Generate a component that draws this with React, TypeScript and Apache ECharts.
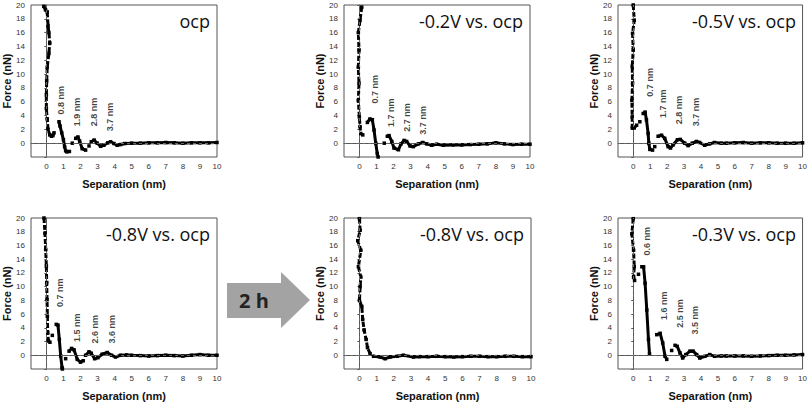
import React, { useEffect, useRef } from "react";
import * as echarts from "echarts";

// ---- axis / tick data ----
const X_TICKS = [0, 1, 2, 3, 4, 5, 6, 7, 8, 9, 10];
const X_MIN = -0.9;
const X_MAX = 10;
const Y_MIN = -2;
const Y_MAX = 20;
const Y_STEP = 2;

const PANEL_TITLES = ["ocp", "-0.2V vs. ocp", "-0.5V vs. ocp", "-0.8V vs. ocp", "-0.8V vs. ocp", "-0.3V vs. ocp"];
const ARROW_LABEL = "2 h";

// ---- curves: each panel is a list of continuous segments [separation nm, force nN]; first one is the steep wall ----
const ocpSegments = [
  [[-0.15, 19.8], [-0.05, 19.3], [0.05, 19], [0.1, 17], [0.15, 16], [0.2, 14.5], [0.15, 13], [0.05, 11], [0.02, 9], [0, 7], [0, 5], [0.05, 3.5], [0.1, 2], [0.2, 1.2], [0.3, 1], [0.38, 1.1], [0.45, 1.5]],
  [[0.74, 3.1], [0.8, 2.5], [0.9, 1.5], [1.0, 0.5], [1.07, -0.5], [1.13, -1.1], [1.2, -1.25], [1.35, -1.2]],
  [[1.52, 0]],
  [[1.72, 0.7], [1.85, 0.9], [1.95, 0.3], [2.1, -0.8], [2.3, -1.0]],
  [[2.5, -0.4]],
  [[2.63, 0.2], [2.8, 0.45], [2.98, 0], [3.18, -0.45], [3.37, -0.3], [3.6, 0.05], [3.76, 0.2], [3.96, -0.05], [4.15, -0.3], [4.35, -0.2], [4.6, -0.05], [5, 0], [5.5, 0], [6, 0.05], [6.5, 0.05], [7, 0.1], [7.5, 0.05], [8, 0], [8.5, 0.05], [9, 0.05], [9.5, 0.05], [10, 0.1]],
];
const m02Segments = [
  [[0.14, 19.7], [0.04, 17.8], [-0.06, 16], [-0.02, 13.5], [-0.06, 11], [-0.02, 8.7], [-0.06, 6.2], [0, 3.8], [0.04, 2.4], [0.08, 1.4], [0.2, 1.2]],
  [[0.47, 3], [0.62, 3.5], [0.76, 3.4], [0.86, 1.9], [0.96, 0], [1.05, -1.5], [1.1, -2]],
  [[1.46, 0]],
  [[1.64, 1.0], [1.74, 1.1], [1.9, 0.25], [2.03, -0.7], [2.29, -0.95], [2.44, -0.1], [2.62, 0.4], [2.77, 0.25], [2.97, -0.4], [3.16, -0.5], [3.46, -0.1], [3.71, 0.1], [3.95, -0.1], [4.24, -0.3], [4.53, -0.15], [4.92, -0.3], [5.5, -0.25], [6, -0.25], [6.5, -0.2], [7, -0.15], [7.5, -0.1], [8, 0.05], [8.5, -0.1], [9, -0.2], [9.5, -0.15], [10, -0.15]],
];
const m05Segments = [
  [[0, 20], [0.06, 17.8], [-0.04, 15.9], [0, 13.5], [-0.06, 11.1], [-0.04, 8.7], [-0.08, 6.2], [-0.06, 3.8], [-0.06, 2.2], [0.06, 2.2], [0.2, 2.6]],
  [[0.39, 3.1]],
  [[0.59, 4.3], [0.7, 4.5], [0.78, 3.4], [0.88, 1.4], [0.92, 0], [0.98, -0.9], [1.14, -1.0]],
  [[1.27, -0.5]],
  [[1.47, 1.0], [1.67, 1.15], [1.86, 0.7], [2.06, -0.5], [2.2, -0.7], [2.35, -0.25], [2.61, 0.5], [2.78, 0.55], [3.04, 0], [3.24, -0.35], [3.49, 0], [3.73, 0.25], [3.92, 0.1], [4.22, -0.3], [4.51, -0.1], [4.8, 0.1], [5.2, 0], [5.5, 0], [6, 0.05], [6.5, 0.1], [7, 0], [7.5, 0.05], [8, 0.05], [8.5, 0], [9, 0], [9.5, 0], [10, 0.05]],
];
const m08Segments = [
  [[-0.14, 20], [-0.08, 17.8], [-0.04, 15.4], [0, 13], [0.02, 10.6], [0.04, 8.1], [0.06, 5.7], [0.08, 3.3], [0.12, 2.1], [0.21, 1.9]],
  [[0.35, 2.9]],
  [[0.58, 4.5], [0.68, 4.4], [0.76, 2.3], [0.84, -0.1], [0.92, -1.8], [0.94, -2]],
  [[1.13, -0.5]],
  [[1.33, 0.6], [1.48, 1.0], [1.62, 0.8], [1.81, -0.6], [2.0, -1.0], [2.16, -0.8]],
  [[2.3, 0], [2.5, 0.5], [2.63, 0.3], [2.83, -0.5], [3.02, -0.35], [3.27, 0.15], [3.57, 0.4], [3.82, 0], [4.05, -0.25], [4.35, 0], [4.7, 0.05], [5, 0], [5.5, -0.05], [6, -0.1], [6.5, -0.05], [7, 0], [7.5, -0.05], [8, -0.1], [8.5, 0], [9, 0.1], [9.5, 0], [10, 0]],
];
const m08After2hSegments = [
  [[0, 19.9], [0.04, 18.2], [-0.1, 16.7], [0.08, 15.3], [-0.06, 12.9], [0.08, 11.4], [0.04, 10], [0, 8], [0.14, 7.1], [0.19, 5.2], [0.27, 3.7], [0.39, 2.3], [0.47, 1.1], [0.62, 0.24]],
  [[0.82, -0.15], [1.2, -0.25], [1.5, -0.5], [1.79, -0.25], [2.2, -0.15], [2.56, 0], [3.15, -0.25], [3.5, -0.2], [4, -0.2], [4.5, -0.15], [5, -0.2], [5.5, -0.25], [6, -0.2], [6.5, -0.15], [7, -0.15], [7.5, -0.2], [8, -0.2], [8.5, -0.15], [9, -0.15], [9.5, -0.2], [10, -0.2]],
];
const m03Segments = [
  [[0, 19.9], [-0.08, 17.7], [0.02, 15.3], [0.06, 12.9], [0.02, 11.4], [0.08, 10.9]],
  [[0.31, 11.8]],
  [[0.51, 12.9], [0.61, 12.9], [0.7, 10.5], [0.8, 6.6], [0.9, 2.3], [0.96, 0.2]],
  [[1.39, 3.0], [1.59, 3.2], [1.74, 1.8], [1.88, -0.15], [1.98, -0.6]],
  [[2.27, 0.7]],
  [[2.47, 1.45], [2.6, 1.3], [2.76, 0.35], [2.92, -0.4], [3.11, 0.1], [3.35, 0.6], [3.54, 0.6], [3.74, 0.1], [3.93, -0.4], [4.23, -0.15], [4.52, 0.1], [4.81, -0.15], [5.2, -0.1], [5.5, -0.1], [6, -0.1], [6.5, -0.1], [7, -0.15], [7.5, -0.1], [8, -0.05], [8.5, 0], [9, 0], [9.5, 0.05], [10, 0.1]],
];

// ---- layer spacing annotations [x, y, text] ----
const ocpNotes = [[0.84, 6.2, "0.8 nm"], [1.77, 4.5, "1.9 nm"], [2.77, 4.5, "2.8 nm"], [3.72, 3.8, "3.7 nm"]];
const m02Notes = [[0.92, 7.8, "0.7 nm"], [1.86, 4.4, "1.7 nm"], [2.77, 3.7, "2.7 nm"], [3.75, 3.3, "3.7 nm"]];
const m05Notes = [[0.98, 8.8, "0.7 nm"], [1.76, 5.7, "1.7 nm"], [2.7, 4.8, "2.8 nm"], [3.69, 4.5, "3.7 nm"]];
const m08Notes = [[0.8, 9.1, "0.7 nm"], [1.81, 4.0, "1.5 nm"], [2.85, 3.8, "2.6 nm"], [3.82, 3.8, "3.6 nm"]];
const m08After2hNotes: any[] = [];
const m03Notes = [[0.8, 16.6, "0.6 nm"], [1.82, 7.2, "1.6 nm"], [2.76, 6.1, "2.5 nm"], [3.64, 5.1, "3.5 nm"]];

const PANEL_SEGMENTS = [ocpSegments, m02Segments, m05Segments, m08Segments, m08After2hSegments, m03Segments];
const PANEL_NOTES = [ocpNotes, m02Notes, m05Notes, m08Notes, m08After2hNotes, m03Notes];

// ---- layout (pixels) ----
const GRIDS = [
  { left: 31, top: 5, width: 186, height: 152 },
  { left: 344, top: 5, width: 186, height: 152 },
  { left: 618, top: 5, width: 185, height: 152 },
  { left: 31, top: 218, width: 186, height: 152 },
  { left: 344, top: 218, width: 187, height: 152 },
  { left: 618, top: 218, width: 185, height: 152 },
];

const SANS = "'Liberation Sans', Arial, sans-serif";
const FRAME = "#555";

export default function App() {
  const ref = useRef<HTMLDivElement>(null);

  useEffect(() => {
    if (!ref.current) return;
    const chart = echarts.init(ref.current, undefined, { renderer: "svg" });

    const grid = GRIDS.map((g) => ({
      ...g,
      show: true,
      borderColor: FRAME,
      borderWidth: 1,
      backgroundColor: "transparent",
      containLabel: false,
    }));

    const xAxis = GRIDS.map((_, i) => ({
      type: "value",
      gridIndex: i,
      min: X_MIN,
      max: X_MAX,
      name: "Separation (nm)",
      nameLocation: "middle",
      nameGap: 21,
      nameTextStyle: { fontFamily: SANS, fontSize: 11, fontWeight: "bold", color: "#111" },
      axisLine: { show: true, lineStyle: { color: FRAME } },
      axisTick: { show: false },
      axisLabel: { show: true, customValues: X_TICKS, fontFamily: SANS, fontSize: 8, color: "#333", margin: 5 },
      splitLine: { show: false },
    }));

    const yAxis = GRIDS.map((_, i) => ({
      type: "value",
      gridIndex: i,
      min: Y_MIN,
      max: Y_MAX,
      interval: Y_STEP,
      name: "Force (nN)",
      nameLocation: "middle",
      nameGap: 17,
      nameTextStyle: { fontFamily: SANS, fontSize: 11, fontWeight: "bold", color: "#111" },
      axisLine: { show: true, lineStyle: { color: FRAME } },
      axisTick: { show: true, length: 2, lineStyle: { color: FRAME } },
      axisLabel: {
        show: true,
        fontFamily: SANS,
        fontSize: 8,
        color: "#333",
        margin: 6,
        formatter: (v: number) => (v < 0 ? "" : String(v)),
      },
      splitLine: { show: false },
    }));

    const series: any[] = [];
    PANEL_SEGMENTS.forEach((segs, i) => {
      // reference lines at x=0 and y=0
      series.push({
        type: "line",
        xAxisIndex: i,
        yAxisIndex: i,
        data: [],
        silent: true,
        markLine: {
          silent: true,
          symbol: ["none", "none"],
          label: { show: false },
          lineStyle: { type: [3, 3], color: "#666", width: 1 },
          data: [{ xAxis: 0 }, { yAxis: 0 }],
        },
      });
      segs.forEach((seg, k) => {
        series.push({
          type: "line",
          xAxisIndex: i,
          yAxisIndex: i,
          data: seg,
          showSymbol: true,
          symbol: "rect",
          symbolSize: 3.5,
          itemStyle: { color: "#000" },
          lineStyle: { color: "#000", width: 3, type: k === 0 ? [5, 2] : "solid" },
          clip: true,
          silent: true,
        });
      });
      if (PANEL_NOTES[i].length) {
        series.push({
          type: "scatter",
          xAxisIndex: i,
          yAxisIndex: i,
          symbolSize: 1,
          itemStyle: { color: "transparent" },
          silent: true,
          data: PANEL_NOTES[i].map((n: any) => ({ value: [n[0], n[1]], name: n[2] })),
          label: {
            show: true,
            position: "inside",
            rotate: 90,
            formatter: "{b}",
            fontFamily: SANS,
            fontSize: 9,
            fontWeight: "bold",
            color: "#111",
          },
        });
      }
    });

    const graphic: any[] = GRIDS.map((g, i) => ({
      type: "text",
      x: g.left + g.width - 7,
      y: g.top + 15.5,
      style: {
        text: PANEL_TITLES[i],
        fontFamily: "'Open Sans', sans-serif",
        fontSize: 18,
        fill: "#111",
        align: "right",
        verticalAlign: "middle",
      },
    }));

    graphic.push({
      type: "polygon",
      shape: {
        points: [
          [227, 283],
          [281, 283],
          [281, 272],
          [310, 300],
          [281, 328],
          [281, 318],
          [227, 318],
        ],
      },
      style: { fill: "#a3a3a3" },
    });
    graphic.push({
      type: "text",
      x: 254,
      y: 300,
      style: {
        text: ARROW_LABEL,
        fontFamily: "'Open Sans', sans-serif",
        fontSize: 20,
        fontWeight: "bold",
        fill: "#222",
        align: "center",
        verticalAlign: "middle",
      },
    });

    chart.setOption({
      animation: false,
      backgroundColor: "#fff",
      grid,
      xAxis,
      yAxis,
      series,
      graphic,
    });

    return () => chart.dispose();
  }, []);

  return (
    <div
      ref={ref}
      style={{ position: "fixed", left: 0, top: 0, width: 810, height: 402, background: "#fff" }}
    />
  );
}
